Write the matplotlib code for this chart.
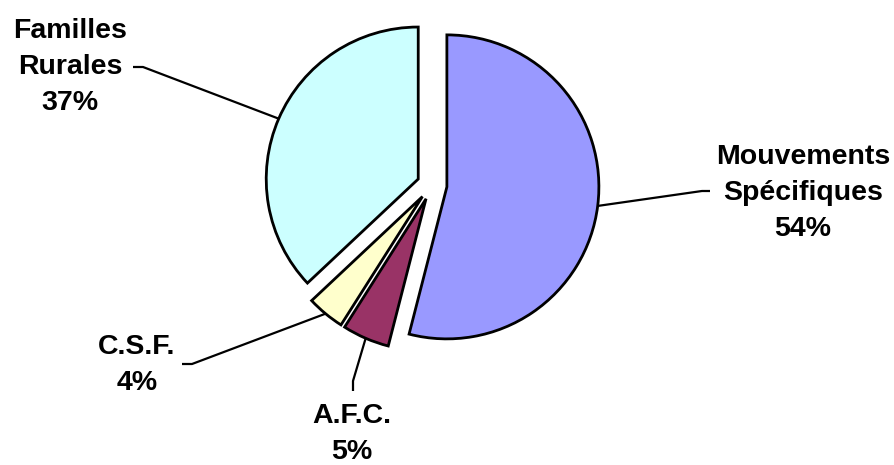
import numpy as np
import matplotlib
matplotlib.use("Agg")
import matplotlib.pyplot as plt

plt.rcParams["font.family"] = ["Liberation Sans", "DejaVu Sans"]

# slices, clockwise from 12 o'clock
labels = ["Mouvements\nSpécifiques", "A.F.C.", "C.S.F.", "Familles\nRurales"]
values = [54, 5, 4, 37]
colors = ["#9999FF", "#993366", "#FFFFCC", "#CCFFFF"]

# label block centres and leader elbows (pixel layout, y from bottom)
label_pos = [(803, 272), (352, 31), (137, 100), (70, 398)]
leader_end = [(710, 274), (353, 74), (182, 101), (133, 398)]
leader_elbow = [(702, 274), (353, 84), (192, 101), (143, 398)]


def main():
    fig = plt.figure(figsize=(8.94, 4.65), dpi=100)
    ax = fig.add_axes([0, 0, 1, 1])

    radius = 152
    # explode is in data units here (not a fraction of the radius)
    wedges, _ = ax.pie(values, colors=colors, startangle=90, counterclock=False,
                       explode=[15] * len(values), center=(432, 280), radius=radius,
                       wedgeprops=dict(edgecolor="black", linewidth=2))

    # pie() resets the limits, so set them afterwards
    ax.set_xlim(0, 894)
    ax.set_ylim(0, 465)
    ax.set_aspect("equal")
    ax.axis("off")

    total = sum(values)
    for i, w in enumerate(wedges):
        mid = np.deg2rad((w.theta1 + w.theta2) / 2)
        cx, cy = w.center
        edge = (cx + w.r * np.cos(mid), cy + w.r * np.sin(mid))
        xs = [edge[0], leader_elbow[i][0], leader_end[i][0]]
        ys = [edge[1], leader_elbow[i][1], leader_end[i][1]]
        ax.plot(xs, ys, color="black", lw=1.6, solid_capstyle="butt")
        pct = round(values[i] / total * 100)
        ax.text(label_pos[i][0], label_pos[i][1], f"{labels[i]}\n{pct}%",
                ha="center", va="center", fontsize=20.5, fontweight="bold",
                linespacing=1.5)

    fig.savefig("out.png", dpi=100)


if __name__ == "__main__":
    main()
